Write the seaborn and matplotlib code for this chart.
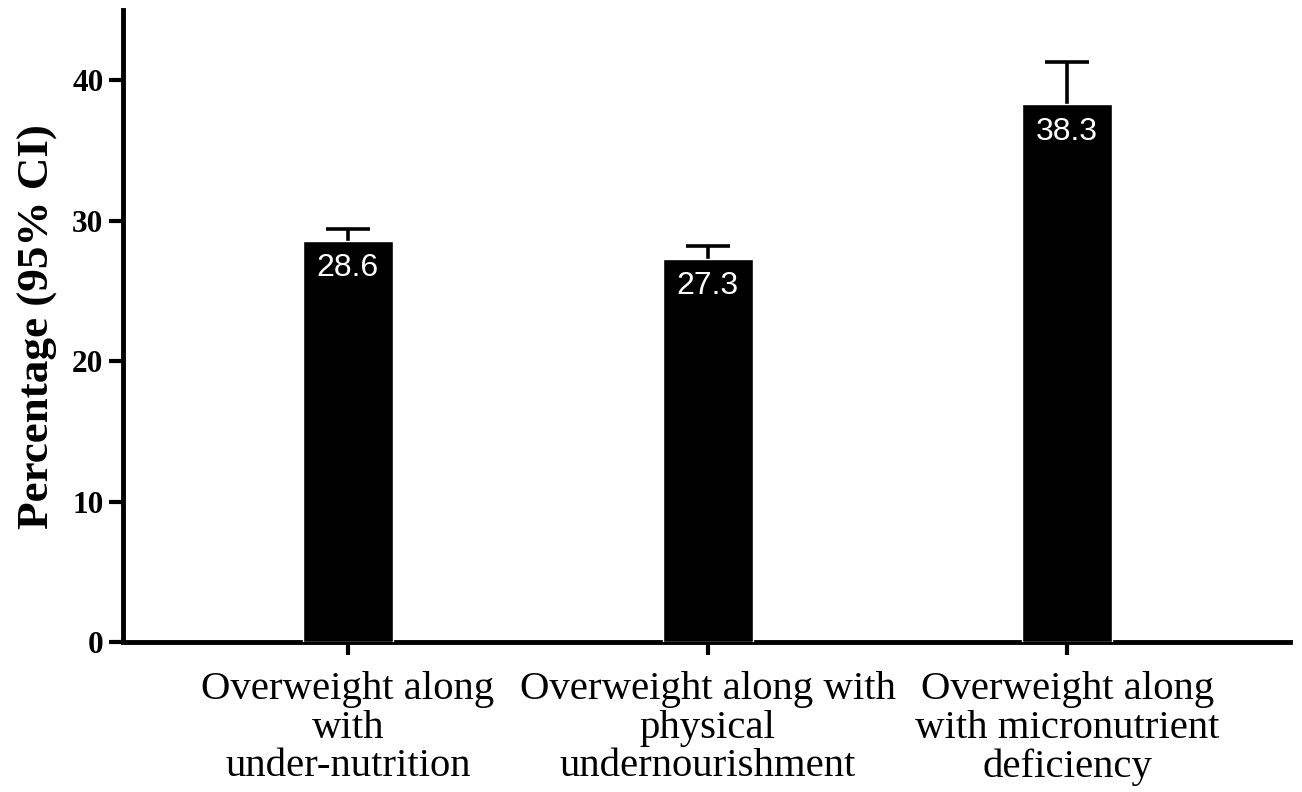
import matplotlib
matplotlib.use("Agg")
import matplotlib.pyplot as plt
import seaborn as sns
import pandas as pd

categories = [
    "Overweight along\nwith\nunder-nutrition",
    "Overweight along with\nphysical\nundernourishment",
    "Overweight along\nwith micronutrient\ndeficiency",
]
percentages = [28.6, 27.3, 38.3]
ci_upper = [29.4, 28.2, 41.3]
y_ticks = [0, 10, 20, 30, 40]

sns.set_style("ticks")
plt.rcParams["font.family"] = ["Liberation Serif", "DejaVu Serif"]
plt.rcParams["text.color"] = "black"
plt.rcParams["xtick.color"] = "black"
plt.rcParams["ytick.color"] = "black"
plt.rcParams["axes.labelcolor"] = "black"

df = pd.DataFrame({"group": categories, "pct": percentages})

fig = plt.figure(figsize=(13.02, 7.92), dpi=100)
ax = fig.add_axes([0.0945, 0.1894, 0.8965, 0.7976])

sns.barplot(data=df, x="group", y="pct", order=categories, color="black",
            saturation=1, width=0.25, errorbar=None, ax=ax, zorder=3)

# symmetric 95% CI; the lower whisker sits behind the bar
half_ci = [u - v for u, v in zip(ci_upper, percentages)]
ax.errorbar(range(len(categories)), percentages, yerr=half_ci,
            fmt="none", ecolor="black", elinewidth=2.6, capsize=16,
            capthick=2.6, zorder=2)

for i, v in enumerate(percentages):
    ax.annotate(f"{v:.1f}", xy=(i, v), xytext=(0, -9),
                textcoords="offset points", ha="center", va="top",
                color="white", fontsize=23, family="Liberation Sans", zorder=4)

ax.set_xlim(-0.625, 2.62)
ax.set_ylim(0, 45)
ax.set_yticks(y_ticks)
ax.set_yticklabels([str(t) for t in y_ticks], fontsize=22.5, fontweight="bold")
ax.set_xlabel("")
ax.set_ylabel("Percentage (95% CI)", fontsize=32.5, fontweight="bold", labelpad=10)

for lbl in ax.get_xticklabels():
    lbl.set_fontsize(29.3)
    lbl.set_linespacing(1.05)

sns.despine(ax=ax)
for side in ("left", "bottom"):
    ax.spines[side].set_linewidth(3.5)
    ax.spines[side].set_color("black")
ax.tick_params(axis="y", length=10, width=3, pad=4)
ax.tick_params(axis="x", length=9, width=3, pad=12)

fig.savefig("out.png", dpi=100, facecolor="white")
